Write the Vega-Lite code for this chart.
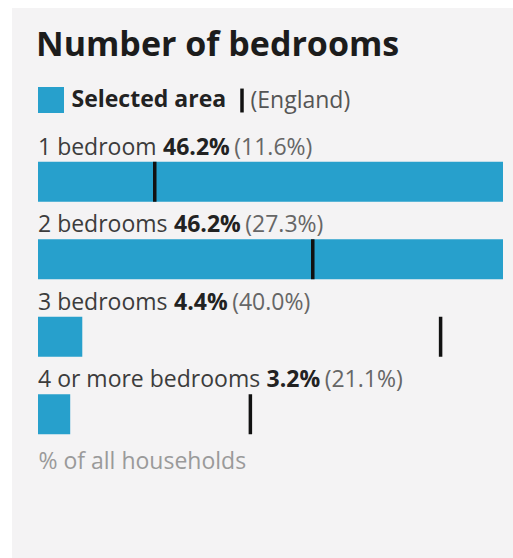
{
  "$schema": "https://vega.github.io/schema/vega-lite/v6.json",
  "width": 513,
  "height": 558,
  "autosize": {"type": "fit", "contains": "padding"},
  "padding": {"left": 12, "top": 8, "right": 0, "bottom": 0},
  "background": "#ffffff",
  "config": {
    "view": {"fill": "#f4f3f4", "stroke": null},
    "font": "Open Sans",
    "axisX": {
      "domain": false, "ticks": false, "labels": false, "grid": false,
      "titleX": 26, "titleY": -90, "titleAlign": "left", "titleAnchor": null,
      "titleBaseline": "alphabetic", "titleFontSize": 23, "titleFontWeight": "normal",
      "titleColor": "#9a9a9a", "titleFont": "Open Sans"
    }
  },
  "title": {
    "text": "Number of bedrooms",
    "anchor": "start", "frame": "group", "orient": "top",
    "offset": -82, "dx": 24, "baseline": "alphabetic",
    "fontSize": 34, "fontWeight": "bold", "color": "#1c1c1c", "font": "Open Sans"
  },
  "data": {
    "values": [
      {"category": "1 bedroom", "selected": 46.2, "england": 11.6},
      {"category": "2 bedrooms", "selected": 46.2, "england": 27.3},
      {"category": "3 bedrooms", "selected": 4.4, "england": 40.0},
      {"category": "4 or more bedrooms", "selected": 3.2, "england": 21.1}
    ]
  },
  "encoding": {
    "y": {
      "field": "category", "type": "nominal", "sort": null, "axis": null,
      "scale": {"range": [135, 445], "paddingInner": 0, "paddingOuter": 0}
    }
  },
  "layer": [
    {
      "mark": {"type": "bar", "height": 40},
      "encoding": {
        "x": {
          "field": "selected", "type": "quantitative", "title": "% of all households",
          "scale": {"domain": [0, 46.2], "range": [26, 491], "nice": false, "zero": true}
        },
        "color": {
          "datum": "Selected area",
          "scale": {"domain": ["Selected area", "(England)"], "range": ["#27a0cc", "#111111"]},
          "legend": {
            "orient": "none", "legendX": 24, "legendY": 77,
            "direction": "horizontal", "title": null, "padding": 0,
            "symbolSize": 676, "symbolType": "square", "symbolStrokeWidth": 0,
            "labelFont": "Open Sans", "labelFontSize": 23, "labelOffset": 5.5,
            "columnPadding": -19,
            "encode": {
              "symbols": {
                "update": {
                  "shape": {"signal": "datum.value === '(England)' ? 'M0,-0.92L0,0.92' : 'square'"},
                  "fill": {"signal": "datum.value === '(England)' ? 'transparent' : '#27a0cc'"},
                  "stroke": {"signal": "datum.value === '(England)' ? '#111111' : 'transparent'"},
                  "strokeWidth": {"value": 3.5},
                  "opacity": {"value": 1}
                }
              },
              "labels": {
                "update": {
                  "fontWeight": {"signal": "datum.value === '(England)' ? 'normal' : 'bold'"},
                  "fill": {"signal": "datum.value === '(England)' ? '#555555' : '#222222'"},
                  "dx": {"signal": "datum.value === '(England)' ? -12 : 0"}
                }
              }
            }
          }
        }
      }
    },
    {
      "mark": {"type": "tick", "thickness": 3.5, "size": 40, "opacity": 1},
      "encoding": {
        "x": {"field": "england", "type": "quantitative", "title": "% of all households"},
        "color": {"datum": "(England)"}
      }
    },
    {
      "mark": {"type": "text", "align": "left", "baseline": "alphabetic", "dy": -27, "fontSize": 23, "color": "#3c3c3c"},
      "encoding": {
        "x": {"datum": 0, "type": "quantitative", "title": "% of all households"},
        "text": {"field": "category"}
      }
    },
    {
      "mark": {
        "type": "text", "align": "left", "baseline": "alphabetic", "dy": -27,
        "fontSize": 23, "fontWeight": "bold", "color": "#222222",
        "text": {"expr": "format(datum.selected, '.1f') + '%'"},
        "dx": {"expr": "0.023*(572*length(datum.category)-312*(length(split(datum.category,' '))-1)+41*(length(split(datum.category,'b'))-1)-11*(length(split(datum.category,'e'))-1)+41*(length(split(datum.category,'d'))-1)-164*(length(split(datum.category,'r'))-1)+29*(length(split(datum.category,'o'))-1)+353*(length(split(datum.category,'m'))-1)-93*(length(split(datum.category,'s'))-1))+6.5"}
      },
      "encoding": {
        "x": {"datum": 0, "type": "quantitative", "title": "% of all households"}
      }
    },
    {
      "mark": {
        "type": "text", "align": "left", "baseline": "alphabetic", "dy": -27,
        "fontSize": 23, "color": "#666666",
        "text": {"expr": "'(' + format(datum.england, '.1f') + '%)'"},
        "dx": {"expr": "0.023*(572*length(datum.category)-312*(length(split(datum.category,' '))-1)+41*(length(split(datum.category,'b'))-1)-11*(length(split(datum.category,'e'))-1)+41*(length(split(datum.category,'d'))-1)-164*(length(split(datum.category,'r'))-1)+29*(length(split(datum.category,'o'))-1)+353*(length(split(datum.category,'m'))-1)-93*(length(split(datum.category,'s'))-1))+6.5+0.023*(572*(length(format(datum.selected,'.1f'))-1)+285+900)+4.5"}
      },
      "encoding": {
        "x": {"datum": 0, "type": "quantitative", "title": "% of all households"}
      }
    }
  ]
}
